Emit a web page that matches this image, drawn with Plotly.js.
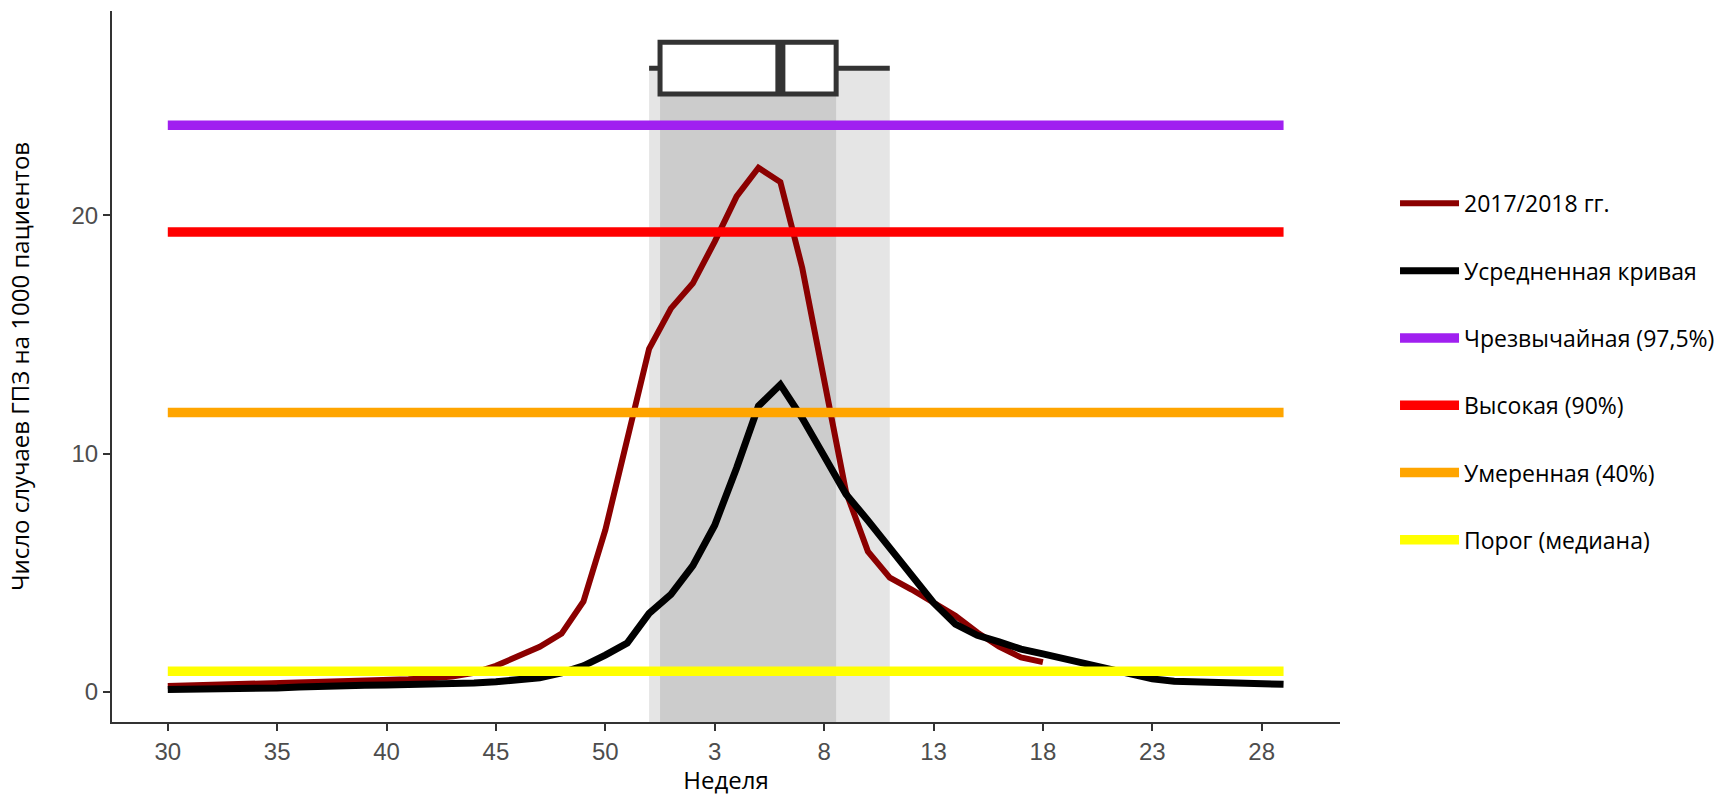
<!DOCTYPE html>
<html><head><meta charset="utf-8">
<script src="https://cdn.plot.ly/plotly-3.0.1.min.js"></script>
<style>body{margin:0;background:#fff}#chart{width:1717px;height:796px}</style>
</head><body><div id="chart"></div>
<script>
// Epidemic weeks of the season (week 30 of 2017 to week 29 of 2018)
const weeks = [30,31,32,33,34,35,36,37,38,39,40,41,42,43,44,45,46,47,48,49,50,51,52,
               1,2,3,4,5,6,7,8,9,10,11,12,13,14,15,16,17,18,19,20,21,22,23,24,25,26,27,28,29];
// Incidence per 1000 patients, season 2017/2018 (weeks 30 .. 18)
const season2017 = [0.25,0.27,0.3,0.32,0.35,0.38,0.4,0.42,0.45,0.47,0.5,0.53,0.58,0.65,0.8,1.1,1.5,1.9,2.45,3.8,
                    6.8,10.7,14.4,16.1,17.15,18.9,20.8,22.0,21.4,17.8,13.2,8.4,5.9,4.8,4.3,3.75,3.2,2.5,1.9,1.45,1.25];
// Averaged epidemic curve (weeks 30 .. 29)
const averageCurve = [0.1,0.1,0.12,0.13,0.15,0.17,0.21,0.25,0.27,0.28,0.29,0.3,0.32,0.35,0.38,0.43,0.5,0.6,0.8,1.1,
                      1.55,2.05,3.3,4.1,5.3,7.0,9.4,12.0,12.9,11.5,9.9,8.3,7.2,6.05,4.8,3.75,2.85,2.38,2.1,1.8,
                      1.6,1.4,1.2,0.97,0.75,0.55,0.45,0.42,0.42,0.38,0.34,0.32];
// Intensity thresholds
const thresholdNames = ['Чрезвычайная (97,5%)','Высокая (90%)','Умеренная (40%)','Порог (медиана)'];
const thresholdValues = [23.78, 19.3, 11.73, 0.87];
const thresholdColors = ['#A020F0','#FF0000','#FFA500','#FFFF00'];
// Peak-week distribution (positions along the season axis): lower whisker, Q1, median, Q3, upper whisker
const peakBoxStats = [22, 22.5, 28, 30.55, 33];
const peakBoxLevel = 26.18;
const peakBoxHeight = 2.17;
// Tick labels
const tickWeeks = [30,35,40,45,50,3,8,13,18,23,28];

const xIdx = weeks.map((w,i)=>i);
const tickVals = tickWeeks.map(w => weeks.indexOf(w));
const yMin = -1.26, yMax = 28.58;

const traces = [];
traces.push({type:'scatter', mode:'lines', name:'2017/2018 гг.', x: xIdx.slice(0, season2017.length), y: season2017,
  line:{color:'#8B0000', width:6}, legendgroup:'a', legendrank:1});
traces.push({type:'scatter', mode:'lines', name:'Усредненная кривая', x: xIdx, y: averageCurve,
  line:{color:'#000000', width:7}, legendgroup:'b', legendrank:2});
thresholdNames.forEach((n,i)=>{
  traces.push({type:'scatter', mode:'lines', name:n, x:[xIdx[0], xIdx[xIdx.length-1]],
    y:[thresholdValues[i], thresholdValues[i]], line:{color:thresholdColors[i], width:9.5},
    legendgroup:'t'+i, legendrank:3+i});
});
traces.push({type:'box', orientation:'h', y:[peakBoxLevel], lowerfence:[peakBoxStats[0]], q1:[peakBoxStats[1]],
  median:[peakBoxStats[2]], q3:[peakBoxStats[3]], upperfence:[peakBoxStats[4]], width:peakBoxHeight,
  whiskerwidth:0, fillcolor:'#FFFFFF', line:{color:'#333333', width:5}, showlegend:false, hoverinfo:'skip'});
traces.push({type:'scatter', mode:'lines', x:[peakBoxStats[2], peakBoxStats[2]],
  y:[peakBoxLevel - peakBoxHeight/2, peakBoxLevel + peakBoxHeight/2], line:{color:'#333333', width:10},
  showlegend:false, hoverinfo:'skip'});

const shapes = [
  {type:'rect', layer:'below', xref:'x', yref:'y', x0:peakBoxStats[0], x1:peakBoxStats[4], y0:yMin, y1:peakBoxLevel,
   fillcolor:'#E5E5E5', line:{width:0}},
  {type:'rect', layer:'below', xref:'x', yref:'y', x0:peakBoxStats[1], x1:peakBoxStats[3], y0:yMin, y1:peakBoxLevel - peakBoxHeight/2,
   fillcolor:'#CCCCCC', line:{width:0}}
];

const layout = {
  width:1717, height:796,
  margin:{l:112, r:377, t:11, b:74, autoexpand:false},
  paper_bgcolor:'#FFFFFF', plot_bgcolor:'#FFFFFF',
  showlegend:true,
  legend:{x:1.0448, xanchor:'left', y:0.7596, yanchor:'top', bgcolor:'rgba(0,0,0,0)',
    font:{family:'Open Sans, sans-serif', size:23, color:'#000000'}, tracegroupgap:34.4, itemwidth:59},
  xaxis:{range:[-2.55, 53.58], tickmode:'array', tickvals:tickVals, ticktext:tickWeeks.map(String),
    showgrid:false, zeroline:false, showline:true, linecolor:'#333333', linewidth:2,
    ticks:'outside', ticklen:7, tickwidth:2, tickcolor:'#333333',
    tickfont:{family:'Liberation Sans, Arial, sans-serif', size:24, color:'#4D4D4D'},
    title:{text:'Неделя', font:{family:'Open Sans, sans-serif', size:24, color:'#000000'}, standoff:8},
    automargin:false, fixedrange:true},
  yaxis:{range:[yMin, yMax], tickvals:[0,10,20], showgrid:false, zeroline:false, showline:true, linecolor:'#333333', linewidth:2,
    ticks:'outside', ticklen:7, tickwidth:2, tickcolor:'#333333',
    tickfont:{family:'Liberation Sans, Arial, sans-serif', size:24, color:'#4D4D4D'},
    title:{text:'Число случаев ГПЗ на 1000 пациентов', font:{family:'Open Sans, sans-serif', size:24, color:'#000000'}, standoff:35},
    automargin:false, fixedrange:true},
  shapes:shapes
};
Plotly.newPlot('chart', traces, layout, {displayModeBar:false});
</script></body></html>
